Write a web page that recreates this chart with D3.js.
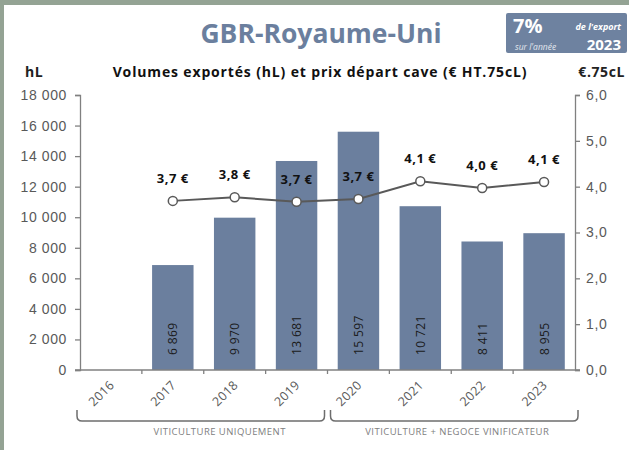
<!DOCTYPE html>
<html>
<head>
<meta charset="utf-8">
<title>GBR-Royaume-Uni</title>
<script src="https://d3js.org/d3.v7.min.js"></script>
<style>
  body { margin: 0; }
  svg { display: block; font-family: "Open Sans", "Noto Sans", sans-serif; }
  .axis path, .axis line { stroke: #808080; stroke-width: 1.3px; }
  .axis text { fill: #595959; font-size: 14px; letter-spacing: 0.6px; }
</style>
</head>
<body>
<svg width="629" height="450"></svg>
<script>
const years = ["2016", "2017", "2018", "2019", "2020", "2021", "2022", "2023"];
const volumes = [null, 6869, 9970, 13681, 15597, 10721, 8411, 8955];
const prices = [null, 3.69, 3.77, 3.67, 3.73, 4.12, 3.97, 4.10];
const volTicks = [0, 2000, 4000, 6000, 8000, 10000, 12000, 14000, 16000, 18000];
const priceTicks = [0, 1, 2, 3, 4, 5, 6];
const groups = [
  { label: "VITICULTURE UNIQUEMENT", from: "2016", to: "2019" },
  { label: "VITICULTURE + NEGOCE VINIFICATEUR", from: "2020", to: "2023" }
];

var svg = d3.select("svg");
var barColor = "#6b7f9e";
var frFmt = d3.formatLocale({ decimal: ",", thousands: "\u00a0", grouping: [3], currency: ["", " €"] });

// card background
svg.append("rect").attr("width", 629).attr("height", 450).attr("fill", "#94a394");
svg.append("rect").attr("x", 4).attr("y", 5).attr("width", 625).attr("height", 445).attr("fill", "#fff");

var x = d3.scaleBand().domain(years).range([80, 575]).paddingInner(0.33).paddingOuter(0.165);
var xb = d3.scaleBand().domain(years).range([80, 575]);
var y = d3.scaleLinear().domain([0, 18000]).range([370, 95]);
var y2 = d3.scaleLinear().domain([0, 6]).range([370, 95]);

// title + badge
svg.append("text").attr("x", 321).attr("y", 43).attr("text-anchor", "middle")
  .style("font-size", "26.5px").style("font-weight", "bold").attr("fill", barColor)
  .text("GBR-Royaume-Uni");

var badge = svg.append("g");
badge.append("rect").attr("x", 506).attr("y", 13).attr("width", 121).attr("height", 40)
  .attr("rx", 2).attr("fill", "#6e82a0");
badge.append("text").attr("x", 513).attr("y", 33).attr("fill", "#fff")
  .style("font-size", "20px").style("font-weight", "bold").text("7%");
badge.append("text").attr("x", 621).attr("y", 30).attr("text-anchor", "end").attr("fill", "#fff")
  .style("font-size", "9px").style("font-weight", "bold").style("font-style", "italic").text("de l'export");
badge.append("text").attr("x", 515).attr("y", 50).attr("fill", "#e3e8ef")
  .style("font-size", "8.5px").style("font-style", "italic").text("sur l'année");
badge.append("text").attr("x", 621).attr("y", 50).attr("text-anchor", "end").attr("fill", "#fff")
  .style("font-size", "15px").style("font-weight", "bold").text("2023");

svg.append("text").attr("x", 320).attr("y", 77).attr("text-anchor", "middle")
  .style("font-size", "14px").style("font-weight", "bold").style("letter-spacing", "0.85px").attr("fill", "#111")
  .text("Volumes exportés (hL) et prix départ cave (€ HT.75cL)");
svg.append("text").attr("x", 25).attr("y", 77)
  .style("font-size", "14px").style("font-weight", "bold").style("letter-spacing", "0.6px").attr("fill", "#222").text("hL");
svg.append("text").attr("x", 625).attr("y", 77).attr("text-anchor", "end")
  .style("font-size", "14px").style("font-weight", "bold").style("letter-spacing", "0.6px").attr("fill", "#222").text("€.75cL");

// bars
var bars = volumes.map(function(v, i) { return { year: years[i], v: v }; }).filter(function(d) { return d.v != null; });
svg.append("g").selectAll("rect").data(bars).join("rect")
  .attr("x", function(d) { return x(d.year); })
  .attr("y", function(d) { return y(d.v); })
  .attr("width", x.bandwidth())
  .attr("height", function(d) { return y(0) - y(d.v); })
  .attr("fill", barColor);

svg.append("g").selectAll("text").data(bars).join("text")
  .attr("transform", function(d) { return "translate(" + (x(d.year) + x.bandwidth() / 2) + "," + 355 + ") rotate(-90)"; })
  .attr("dominant-baseline", "central")
  .style("font-size", "12px").style("letter-spacing", "0.4px").attr("fill", "#1a1a1a")
  .text(function(d) { return frFmt.format(",d")(d.v); });

// axes
svg.append("g").attr("class", "axis").attr("transform", "translate(80,0)")
  .call(d3.axisLeft(y).tickValues(volTicks).tickSize(5).tickPadding(8).tickFormat(frFmt.format(",d")));
svg.append("g").attr("class", "axis").attr("transform", "translate(575,0)")
  .call(d3.axisRight(y2).tickValues(priceTicks).tickSize(5).tickPadding(6).tickFormat(frFmt.format(".1f")));
var axB = svg.append("g").attr("class", "axis").attr("transform", "translate(0,370)")
  .call(d3.axisBottom(xb).tickSize(0).tickFormat(""));
axB.select(".domain").attr("d", "M75,0H580");
// boundary ticks between categories
axB.selectAll(".sep").data(years.slice(1)).join("line")
  .attr("x1", function(d) { return xb(d); }).attr("x2", function(d) { return xb(d); })
  .attr("y1", 0).attr("y2", 4).attr("stroke", "#808080").attr("stroke-width", 1.3);

// rotated year labels
svg.append("g").selectAll("text").data(years).join("text")
  .attr("text-anchor", "end")
  .attr("transform", function(d) { return "translate(" + (xb(d) + xb.bandwidth() / 2 + 4) + ",386) rotate(-45)"; })
  .style("font-size", "12.5px").style("letter-spacing", "0.3px").attr("fill", "#595959")
  .text(function(d) { return d; });

// price line
var pts = prices.map(function(p, i) { return { year: years[i], p: p }; }).filter(function(d) { return d.p != null; });
var cx = function(d) { return xb(d.year) + xb.bandwidth() / 2; };
svg.append("path").datum(pts)
  .attr("fill", "none").attr("stroke", "#595959").attr("stroke-width", 2)
  .attr("d", d3.line().x(cx).y(function(d) { return y2(d.p); }));
svg.append("g").selectAll("circle").data(pts).join("circle")
  .attr("cx", cx).attr("cy", function(d) { return y2(d.p); }).attr("r", 4.5)
  .attr("fill", "#fff").attr("stroke", "#595959").attr("stroke-width", 1.5);
svg.append("g").selectAll("text").data(pts).join("text")
  .attr("x", cx).attr("y", function(d) { return y2(d.p) - 18; })
  .attr("text-anchor", "middle")
  .style("font-size", "13px").style("font-weight", "bold").style("letter-spacing", "0.5px").attr("fill", "#111")
  .text(function(d) { return frFmt.format(".1f")(d.p) + " €"; });

// group brackets
var gb = svg.append("g");
groups.forEach(function(g, i) {
  var x0 = xb(g.from) - 3 + (i === 1 ? 6 : 0);
  var x1 = xb(g.to) + xb.bandwidth() + 3 - (i === 0 ? 6 : 0);
  var top = 410, bot = 421, r = 5;
  gb.append("path")
    .attr("d", "M" + x0 + "," + top + "V" + (bot - r) + "Q" + x0 + "," + bot + " " + (x0 + r) + "," + bot +
      "H" + (x1 - r) + "Q" + x1 + "," + bot + " " + x1 + "," + (bot - r) + "V" + top)
    .attr("fill", "none").attr("stroke", "#6d6d6d").attr("stroke-width", 1.5);
  gb.append("text").attr("x", (x0 + x1) / 2 + (i === 0 ? 19 : 3)).attr("y", 434.5).attr("text-anchor", "middle")
    .style("font-size", "9.5px").style("letter-spacing", "0.45px").attr("fill", "#808080").text(g.label);
});
</script>
</body>
</html>
